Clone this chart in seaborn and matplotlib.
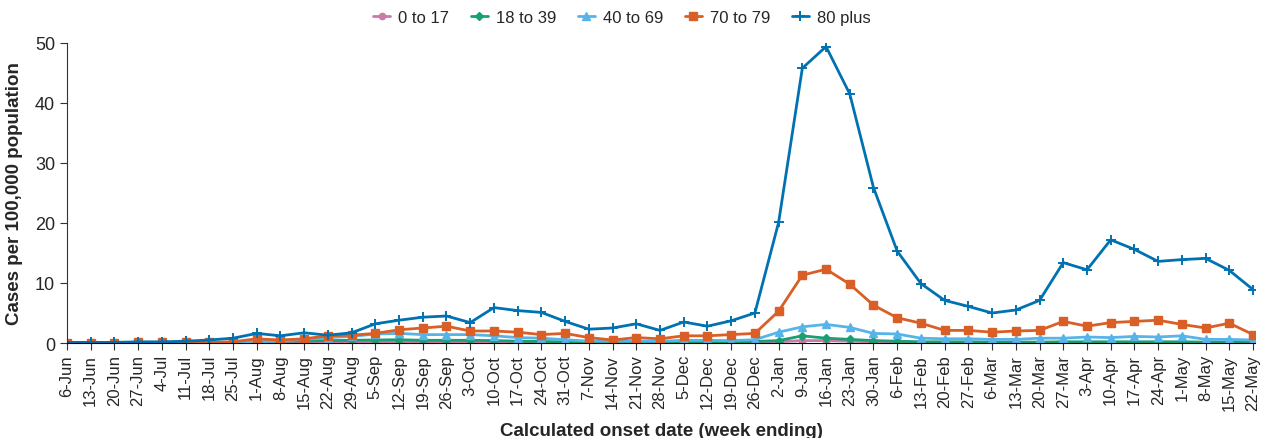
import numpy as np
import pandas as pd
import matplotlib
matplotlib.use('Agg')
import matplotlib.pyplot as plt
import seaborn as sns

weeks = [
    "6-Jun", "13-Jun", "20-Jun", "27-Jun", "4-Jul", "11-Jul", "18-Jul", "25-Jul",
    "1-Aug", "8-Aug", "15-Aug", "22-Aug", "29-Aug", "5-Sep", "12-Sep", "19-Sep",
    "26-Sep", "3-Oct", "10-Oct", "17-Oct", "24-Oct", "31-Oct", "7-Nov", "14-Nov",
    "21-Nov", "28-Nov", "5-Dec", "12-Dec", "19-Dec", "26-Dec", "2-Jan", "9-Jan",
    "16-Jan", "23-Jan", "30-Jan", "6-Feb", "13-Feb", "20-Feb", "27-Feb", "6-Mar",
    "13-Mar", "20-Mar", "27-Mar", "3-Apr", "10-Apr", "17-Apr", "24-Apr", "1-May",
    "8-May", "15-May", "22-May",
]

age_0_17 = [0, 0, 0, 0, 0, 0, 0, 0, 0.05, 0.05, 0.1, 0.1, 0.1, 0.1,
            0.15, 0.1, 0.1, 0.1, 0.1, 0.1, 0.1, 0.1, 0.05, 0.05, 0.05, 0.05, 0.1, 0.1, 0.1, 0.1,
            0.2, 0.4, 0.4, 0.3, 0.2, 0.1, 0.1, 0.1, 0.1, 0.1, 0.05, 0.05, 0.1, 0.1, 0.1, 0.1,
            0.1, 0.1, 0.05, 0.05, 0.05]
age_18_39 = [0, 0, 0, 0, 0, 0, 0.05, 0.1, 0.2, 0.3, 0.35, 0.4, 0.45, 0.5,
             0.55, 0.45, 0.45, 0.45, 0.4, 0.3, 0.25, 0.2, 0.15, 0.15, 0.15, 0.15, 0.2, 0.2, 0.2, 0.25,
             0.4, 1.2, 0.8, 0.6, 0.4, 0.3, 0.2, 0.2, 0.2, 0.15, 0.15, 0.15, 0.2, 0.2, 0.2, 0.2,
             0.2, 0.2, 0.15, 0.15, 0.15]
age_40_69 = [0, 0, 0, 0, 0, 0.05, 0.1, 0.1, 0.2, 0.3, 0.6, 0.9, 1.1, 1.5,
             1.6, 1.4, 1.4, 1.4, 1.2, 0.9, 0.8, 0.55, 0.3, 0.3, 0.3, 0.3, 0.45, 0.45, 0.4, 0.55,
             1.8, 2.7, 3.1, 2.6, 1.6, 1.5, 0.8, 0.7, 0.7, 0.6, 0.6, 0.8, 0.8, 1.0, 0.9, 1.1,
             1.0, 1.2, 0.6, 0.6, 0.5]
age_70_79 = [0.0, 0.0, 0.05, 0.1, 0.1, 0.1, 0.1, 0.2, 0.7, 0.5, 0.7, 1.2, 1.3, 1.6,
             2.2, 2.5, 2.8, 2.0, 2.0, 1.8, 1.4, 1.6, 0.9, 0.5, 0.9, 0.7, 1.2, 1.2, 1.4, 1.6,
             5.3, 11.3, 12.3, 9.8, 6.3, 4.2, 3.3, 2.1, 2.1, 1.8, 2.0, 2.1, 3.6, 2.8, 3.4, 3.6,
             3.8, 3.1, 2.5, 3.3, 1.4]
age_80_plus = [0.1, 0.1, 0.1, 0.2, 0.2, 0.3, 0.5, 0.8, 1.6, 1.2, 1.7, 1.3, 1.7, 3.2,
               3.8, 4.3, 4.5, 3.4, 5.9, 5.4, 5.1, 3.6, 2.3, 2.5, 3.2, 2.1, 3.5, 2.8, 3.7, 5.0,
               20.1, 45.8, 49.4, 41.5, 25.9, 15.3, 9.9, 7.1, 6.1, 5.0, 5.5, 7.1, 13.4, 12.2, 17.2, 15.6,
               13.6, 13.9, 14.1, 12.1, 8.9]

groups = ["0 to 17", "18 to 39", "40 to 69", "70 to 79", "80 plus"]
series = [age_0_17, age_18_39, age_40_69, age_70_79, age_80_plus]

colors = {"0 to 17": "#CC79A7", "18 to 39": "#1A9E73", "40 to 69": "#56B4E9",
          "70 to 79": "#D95F26", "80 plus": "#0072B2"}
markers = {"0 to 17": "o", "18 to 39": "D", "40 to 69": "^",
           "70 to 79": "s", "80 plus": "+"}
sizes = {"0 to 17": 4.5, "18 to 39": 4.5, "40 to 69": 6, "70 to 79": 6, "80 plus": 6.5}

rows = []
for g, vals in zip(groups, series):
    for i, v in enumerate(vals):
        rows.append({"week": i, "rate": v, "group": g})
df = pd.DataFrame(rows)

sns.set_style("ticks")
plt.rcParams['font.family'] = ['Liberation Sans', 'DejaVu Sans']

fig = plt.figure(figsize=(12.63, 4.39), dpi=100)
ax = fig.add_axes([0.053, 0.2164, 0.941, 0.6834])

for g in groups:
    sub = df[df["group"] == g]
    sns.lineplot(data=sub, x="week", y="rate", color=colors[g], marker=markers[g],
                 markersize=sizes[g], markeredgewidth=1.0 if g != "80 plus" else 1.4,
                 markeredgecolor=colors[g], linewidth=2, label=g, ax=ax)

ax.set_xlim(0, 50.1)
ax.set_ylim(0, 50)
ax.set_yticks([0, 10, 20, 30, 40, 50])
ax.set_xticks(range(len(weeks)))
ax.set_xticklabels(weeks, rotation=90, fontsize=12)
ax.tick_params(axis="y", labelsize=13, length=5, color="#333333")
ax.tick_params(axis="x", length=5, pad=3, color="#333333")
ax.set_xlabel("Calculated onset date (week ending)", fontsize=13.5, fontweight="bold", labelpad=9)
ax.set_ylabel("Cases per 100,000 population", fontsize=13.5, fontweight="bold", labelpad=9)
sns.despine(ax=ax)
ax.spines["left"].set_color("#333333")
ax.spines["bottom"].set_color("black")

ax.legend(loc="center", bbox_to_anchor=(0.467, 1.085), ncol=5, frameon=False,
          fontsize=12, handlelength=1.0, columnspacing=1.3, handletextpad=0.5)

fig.savefig("out.png", dpi=100)
plt.close('all')
